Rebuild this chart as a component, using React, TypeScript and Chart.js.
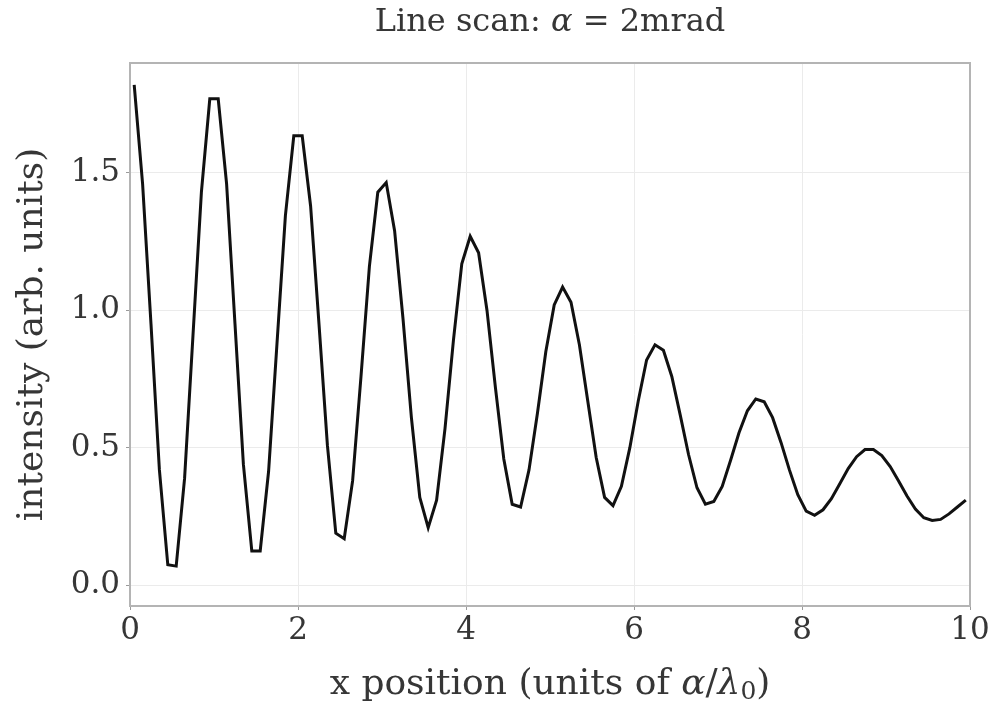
import React, { useEffect, useRef } from "react";
import { Chart, registerables } from "chart.js";

Chart.register(...registerables);

// sample positions (units of alpha/lambda0)
const X_POS = [
  0.05, 0.15, 0.25, 0.35, 0.45, 0.55, 0.65, 0.75, 0.85, 0.95,
  1.05, 1.15, 1.25, 1.35, 1.45, 1.55, 1.65, 1.75, 1.85, 1.95,
  2.05, 2.15, 2.25, 2.35, 2.45, 2.55, 2.65, 2.75, 2.85, 2.95,
  3.05, 3.15, 3.25, 3.35, 3.45, 3.55, 3.65, 3.75, 3.85, 3.95,
  4.05, 4.15, 4.25, 4.35, 4.45, 4.55, 4.65, 4.75, 4.85, 4.95,
  5.05, 5.15, 5.25, 5.35, 5.45, 5.55, 5.65, 5.75, 5.85, 5.95,
  6.05, 6.15, 6.25, 6.35, 6.45, 6.55, 6.65, 6.75, 6.85, 6.95,
  7.05, 7.15, 7.25, 7.35, 7.45, 7.55, 7.65, 7.75, 7.85, 7.95,
  8.05, 8.15, 8.25, 8.35, 8.45, 8.55, 8.65, 8.75, 8.85, 8.95,
  9.05, 9.15, 9.25, 9.35, 9.45, 9.55, 9.65, 9.75, 9.85, 9.95,
];

// intensity (arb. units)
const INTENSITY = [
  1.82, 1.46, 0.95, 0.42, 0.075, 0.07, 0.39, 0.91, 1.43, 1.77,
  1.77, 1.46, 0.95, 0.44, 0.125, 0.125, 0.415, 0.88, 1.345, 1.635,
  1.635, 1.38, 0.95, 0.51, 0.19, 0.17, 0.38, 0.76, 1.16, 1.43,
  1.465, 1.29, 0.97, 0.61, 0.32, 0.21, 0.31, 0.57, 0.89, 1.17,
  1.27, 1.21, 1.0, 0.72, 0.46, 0.295, 0.285, 0.42, 0.625, 0.85,
  1.02, 1.085, 1.03, 0.875, 0.67, 0.465, 0.32, 0.29, 0.36, 0.5,
  0.67, 0.82, 0.875, 0.855, 0.76, 0.62, 0.475, 0.355, 0.295, 0.305,
  0.36, 0.455, 0.555, 0.635, 0.678, 0.668, 0.61, 0.52, 0.42, 0.33,
  0.27, 0.255, 0.275, 0.315, 0.37, 0.425, 0.468, 0.494, 0.494, 0.472,
  0.432, 0.38, 0.325, 0.278, 0.246, 0.236, 0.24, 0.26, 0.285, 0.31,
];

const X_TICKS = [0, 2, 4, 6, 8, 10];
const Y_TICKS = [0.0, 0.5, 1.0, 1.5];

const SERIF = "'DejaVu Serif', serif";
const TITLE_SIZE = 32;
const LABEL_SIZE = 36;
const TICK_SIZE = 31;
const TEXT_COLOR = "#363636";
const SPINE_COLOR = "#b4b4b4";
const GRID_COLOR = "#ebebeb";

type Seg = { text: string; italic?: boolean; sub?: boolean };

function drawMixed(
  ctx: CanvasRenderingContext2D,
  segs: Seg[],
  cx: number,
  cy: number,
  size: number
) {
  const fontFor = (s: Seg) =>
    `${s.italic ? "italic " : ""}${s.sub ? Math.round(size * 0.7) : size}px ${SERIF}`;
  let total = 0;
  const widths = segs.map((s) => {
    ctx.font = fontFor(s);
    const w = ctx.measureText(s.text).width;
    total += w;
    return w;
  });
  let x = cx - total / 2;
  ctx.textBaseline = "middle";
  ctx.textAlign = "left";
  segs.forEach((s, i) => {
    ctx.font = fontFor(s);
    ctx.fillText(s.text, x, s.sub ? cy + size * 0.22 : cy);
    x += widths[i];
  });
}

const framePlugin = {
  id: "frameAndLabels",
  afterDatasetsDraw(chart: any) {
    const { ctx, chartArea } = chart;
    const { left, top, right, bottom } = chartArea;
    ctx.save();
    ctx.strokeStyle = SPINE_COLOR;
    ctx.lineWidth = 2;
    ctx.strokeRect(left, top, right - left, bottom - top);
    ctx.restore();
  },
  afterDraw(chart: any) {
    const { ctx, chartArea } = chart;
    const cx = (chartArea.left + chartArea.right) / 2;
    const cy = (chartArea.top + chartArea.bottom) / 2;
    ctx.save();
    ctx.fillStyle = TEXT_COLOR;
    drawMixed(
      ctx,
      [{ text: "Line scan: " }, { text: "α", italic: true }, { text: " = 2mrad" }],
      cx,
      23,
      TITLE_SIZE
    );
    drawMixed(
      ctx,
      [
        { text: "x position (units of " },
        { text: "α", italic: true },
        { text: "/" },
        { text: "λ", italic: true },
        { text: "0", sub: true },
        { text: ")" },
      ],
      cx,
      685,
      LABEL_SIZE
    );
    ctx.translate(33, cy);
    ctx.rotate(-Math.PI / 2);
    drawMixed(ctx, [{ text: "intensity (arb. units)" }], 0, 0, LABEL_SIZE);
    ctx.restore();
  },
};

export default function App() {
  const canvasRef = useRef<HTMLCanvasElement | null>(null);

  useEffect(() => {
    document.body.style.margin = "0";
    const canvas = canvasRef.current;
    if (!canvas) return;
    const points = X_POS.map((x, i) => ({ x, y: INTENSITY[i] }));
    const chart = new Chart(canvas, {
      type: "line",
      data: {
        datasets: [
          {
            data: points,
            borderColor: "#111111",
            borderWidth: 3,
            pointRadius: 0,
            tension: 0,
            fill: false,
          },
        ],
      },
      options: {
        animation: false,
        responsive: false,
        devicePixelRatio: 1,
        layout: { padding: { top: 63, right: 24, left: 0, bottom: 0 } },
        plugins: {
          legend: { display: false },
          tooltip: { enabled: false },
          title: { display: false },
        },
        scales: {
          x: {
            type: "linear",
            min: 0,
            max: 10,
            afterBuildTicks: (scale: any) => {
              scale.ticks = X_TICKS.map((v) => ({ value: v }));
            },
            afterFit: (scale: any) => {
              scale.height = 100;
            },
            grid: {
              color: GRID_COLOR,
              lineWidth: 1,
              drawTicks: true,
              tickLength: 4,
              tickColor: "#9a9a9a",
            },
            border: { display: false },
            ticks: {
              color: TEXT_COLOR,
              font: { family: SERIF, size: TICK_SIZE },
              padding: 2,
              maxRotation: 0,
              callback: (v: any) => String(v),
            },
          },
          y: {
            type: "linear",
            min: -0.075,
            max: 1.9,
            afterBuildTicks: (scale: any) => {
              scale.ticks = Y_TICKS.map((v) => ({ value: v }));
            },
            afterFit: (scale: any) => {
              scale.width = 130;
            },
            grid: {
              color: GRID_COLOR,
              lineWidth: 1,
              drawTicks: true,
              tickLength: 4,
              tickColor: "#9a9a9a",
            },
            border: { display: false },
            ticks: {
              color: TEXT_COLOR,
              font: { family: SERIF, size: TICK_SIZE },
              padding: 6,
              callback: (v: any) => Number(v).toFixed(1),
            },
          },
        },
      },
      plugins: [framePlugin],
    });
    return () => chart.destroy();
  }, []);

  return (
    <div style={{ width: 994, height: 706, background: "#ffffff" }}>
      <canvas ref={canvasRef} width={994} height={706} style={{ display: "block" }} />
    </div>
  );
}
